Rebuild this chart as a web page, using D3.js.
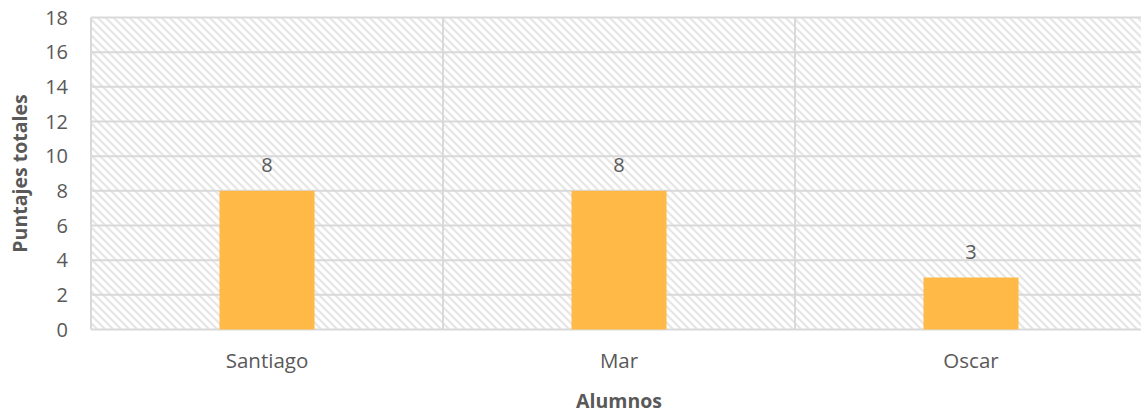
<!DOCTYPE html>
<html><head><meta charset="utf-8">
<script src="https://cdn.jsdelivr.net/npm/d3@7"></script>
<style>
body{margin:0;background:#fff;}
text{font-family:"Open Sans","Noto Sans",sans-serif;fill:#595959;}
</style></head>
<body>
<svg id="c" width="1141" height="413"></svg>
<script>
const categories = ["Santiago","Mar","Oscar"];
const values = [8,8,3];
const yTicks = [0,2,4,6,8,10,12,14,16,18];
const yTitle = "Puntajes totales";
const xTitle = "Alumnos";

const svg = d3.select("#c");
const m = {left:91, top:17.5, right:1147, bottom:329.5};

const defs = svg.append("defs");
const pat = defs.append("pattern").attr("id","hatch").attr("patternUnits","userSpaceOnUse")
  .attr("width",8).attr("height",8);
pat.append("rect").attr("width",8).attr("height",8).attr("fill","#fff");
pat.append("path").attr("d","M-2,-2 L10,10 M-2,6 L2,10 M6,-2 L10,2")
  .attr("stroke","#e6e6e6").attr("stroke-width",2.2);

const x = d3.scaleBand().domain(categories).range([m.left,m.right]).paddingInner(0).paddingOuter(0);
const y = d3.scaleLinear().domain([0,18]).range([m.bottom,m.top]);

svg.append("rect").attr("x",m.left).attr("y",m.top).attr("width",m.right-m.left).attr("height",m.bottom-m.top)
  .attr("fill","url(#hatch)");

svg.append("g").selectAll("line").data(yTicks).join("line")
  .attr("x1",m.left).attr("x2",m.right).attr("y1",d=>y(d)).attr("y2",d=>y(d))
  .attr("stroke","#d9d9d9").attr("stroke-width",2);
const bounds = categories.map(c=>x(c)).concat([m.right]);
svg.append("g").selectAll("line").data(bounds).join("line")
  .attr("x1",d=>d).attr("x2",d=>d).attr("y1",m.top).attr("y2",m.bottom)
  .attr("stroke","#d9d9d9").attr("stroke-width",2);

const bw = x.bandwidth()*0.27;
svg.append("g").selectAll("rect").data(values).join("rect")
  .attr("x",(d,i)=>x(categories[i])+x.bandwidth()/2-bw/2)
  .attr("width",bw)
  .attr("y",d=>y(d)).attr("height",d=>y(0)-y(d))
  .attr("fill","#ffb946");

svg.append("g").selectAll("text").data(values).join("text")
  .attr("x",(d,i)=>x(categories[i])+x.bandwidth()/2)
  .attr("y",d=>y(d)-19)
  .attr("text-anchor","middle").attr("font-size",20).text(d=>d);

svg.append("g").selectAll("text").data(yTicks).join("text")
  .attr("x",68).attr("y",d=>y(d)).attr("dy","0.36em")
  .attr("text-anchor","end").attr("font-size",20).text(d=>d);

svg.append("g").selectAll("text").data(categories).join("text")
  .attr("x",d=>x(d)+x.bandwidth()/2).attr("y",368)
  .attr("text-anchor","middle").attr("font-size",20.5).text(d=>d);

svg.append("text").attr("x",(m.left+m.right)/2).attr("y",408)
  .attr("text-anchor","middle").attr("font-size",19.5).attr("font-weight","bold").text(xTitle);
svg.append("text").attr("transform",`translate(27,${(m.top+m.bottom)/2}) rotate(-90)`)
  .attr("text-anchor","middle").attr("font-size",19.5).attr("font-weight","bold").text(yTitle);
</script>
</body></html>
